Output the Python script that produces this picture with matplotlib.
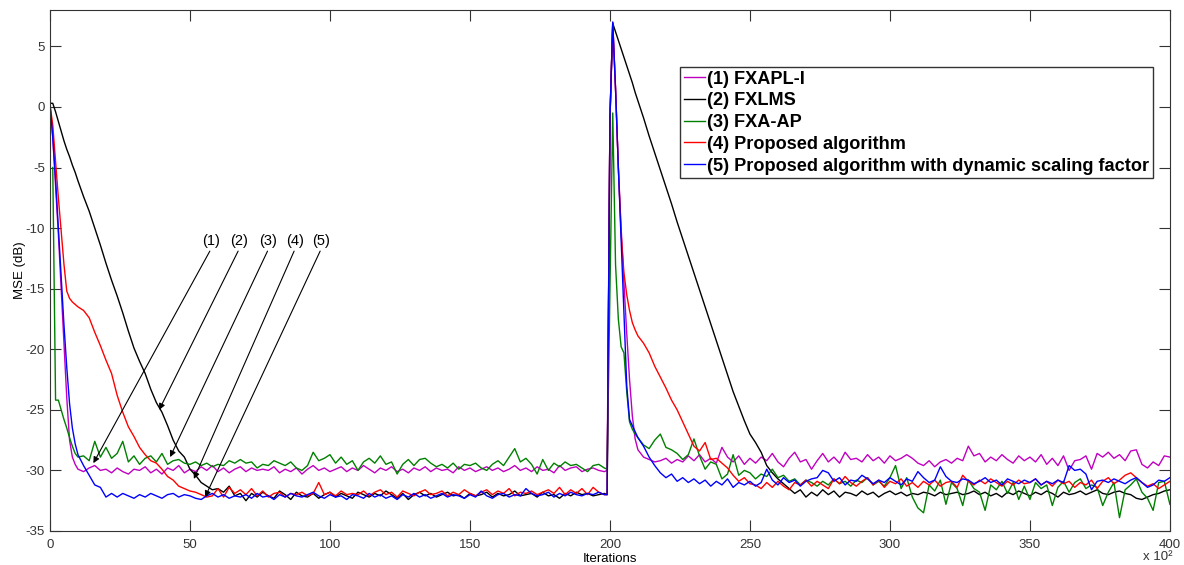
import numpy as np
import matplotlib
matplotlib.use('Agg')
import matplotlib.pyplot as plt

plt.rcParams['font.family'] = ['Liberation Sans', 'DejaVu Sans']
plt.rcParams['axes.unicode_minus'] = False

# iteration grid (x 10^2): fine steps around the two transients, step 2 elsewhere
it = np.concatenate([np.arange(0, 10), np.arange(10, 199, 2),
                     np.arange(199, 210), np.arange(210, 401, 2)])

# (1) FXAPL-I
fxapl = [0.2, -2.5, -6.5, -10.5, -15.0, -19.5, -24.0, -27.5, -28.9, -29.5,
         -29.9, -30.1, -29.8, -29.6, -30.0, -29.9, -30.2, -29.8, -30.1, -30.3,
         -29.9, -30.0, -29.7, -30.2, -29.9, -30.3, -29.8, -30.0, -29.6, -30.2,
         -29.9, -30.1, -29.7, -30.0, -29.6, -30.1, -29.8, -30.2, -29.9, -29.7,
         -30.1, -29.8, -30.0, -29.9, -30.0, -29.7, -30.2, -29.9, -30.1, -29.8,
         -30.3, -29.9, -29.6, -30.0, -29.8, -30.1, -29.9, -29.7, -30.1, -29.8,
         -30.0, -29.6, -29.9, -30.2, -29.8, -30.0, -29.7, -30.1, -29.9, -30.2,
         -29.8, -30.0, -29.7, -30.1, -29.8, -30.0, -29.9, -30.2, -29.7, -30.0,
         -29.8, -30.1, -29.9, -29.7, -30.0, -29.8, -30.1, -29.9, -29.6, -30.0,
         -29.8, -30.1, -29.7, -30.0, -29.9, -30.2, -29.6, -30.0, -29.8, -29.7,
         -30.1, -29.9, -29.8, -30.0, -30.1,
         -30.0, -1.0, 7.0, 1.5, -5.0, -10.0, -14.5, -18.7, -22.5, -25.5, -27.4,
         -28.3, -28.9, -29.1, -29.3, -29.2, -29.0, -29.4, -29.1, -29.3, -28.8,
         -29.2, -28.7, -29.3, -29.0, -29.4, -28.1, -28.9, -29.3, -28.8, -29.5,
         -29.0, -29.4, -28.9, -29.2, -28.6, -29.3, -29.7, -29.0, -28.5, -29.3,
         -29.1, -29.9, -29.2, -28.6, -29.3, -28.9, -29.4, -28.5, -29.1, -29.0,
         -29.3, -28.7, -29.2, -28.9, -29.4, -28.8, -29.2, -29.0, -28.7, -29.0,
         -29.4, -29.6, -29.2, -29.7, -29.3, -29.1, -29.4, -29.0, -29.2, -28.0,
         -28.8, -28.6, -29.3, -28.9, -29.2, -28.7, -29.1, -29.4, -28.8, -29.2,
         -28.9, -29.3, -28.7, -29.5, -29.0, -29.6, -28.8, -30.0, -29.2, -29.1,
         -28.8, -29.9, -28.6, -28.9, -28.5, -29.0, -28.7, -29.2, -28.4, -28.3,
         -29.5, -29.8, -29.3, -29.6, -28.8, -28.9]

# (2) FXLMS
fxlms = [0.3, 0.3, -0.4, -1.2, -2.0, -2.8, -3.5, -4.1, -4.8, -5.4,
         -6.1, -7.4, -8.6, -10.0, -11.4, -12.9, -14.3, -15.6, -17.0, -18.5,
         -19.9, -21.0, -22.0, -23.3, -24.4, -25.2, -26.3, -27.5, -28.4, -28.9,
         -29.9, -30.4, -31.0, -31.3, -31.6, -31.5, -31.8, -31.3, -32.1, -31.9,
         -32.5, -31.9, -32.2, -31.8, -32.1, -32.3, -31.7, -32.0, -32.4, -31.8,
         -32.1, -32.2, -31.9, -32.3, -32.0, -31.8, -32.2, -31.9, -32.1, -32.3,
         -31.8, -32.0, -32.2, -31.9, -32.1, -31.7, -32.0, -32.3, -31.9, -32.4,
         -32.0, -31.8, -32.1, -31.9, -32.2, -32.0, -31.8, -32.1, -32.0, -32.3,
         -31.9, -32.1, -32.0, -31.8, -32.2, -31.9, -32.1, -32.0, -31.7, -32.1,
         -32.0, -31.9, -32.2, -31.8, -32.1, -32.0, -32.3, -31.9, -32.1, -31.8,
         -32.0, -31.9, -32.1, -32.0, -31.9,
         -32.0, -1.0, 6.9, 6.2, 5.5, 4.8, 4.1, 3.4, 2.7, 2.0, 1.2,
         0.5, -0.9, -2.4, -3.8, -5.2, -6.6, -8.0, -9.5, -10.9, -12.3,
         -13.7, -15.1, -16.5, -17.9, -19.3, -20.7, -22.1, -23.5, -24.7, -25.9,
         -27.0, -27.7, -28.5, -29.6, -30.2, -30.7, -31.1, -31.5, -31.9, -31.6,
         -32.2, -31.8, -32.1, -31.6, -32.0, -31.7, -32.2, -31.8, -31.9, -32.1,
         -31.7, -32.0, -31.8, -32.2, -31.9, -31.7, -32.0, -31.8, -32.1, -31.9,
         -32.0, -31.8, -31.9, -32.1, -31.8, -32.0, -31.9, -31.8, -32.0, -31.9,
         -31.7, -32.0, -31.8, -32.1, -31.9, -32.2, -31.8, -32.0, -31.7, -31.9,
         -32.1, -31.8, -32.0, -31.7, -31.9, -32.2, -31.8, -32.0, -31.9, -31.7,
         -32.0, -31.8, -31.6, -31.9, -32.0, -31.8, -31.7, -31.9, -32.0, -32.3,
         -32.4, -32.2, -32.0, -31.9, -31.7, -31.6]

# (3) FXA-AP
fxaap = [np.nan, -5.0, -24.2, -24.2, -25.0, -25.8, -26.5, -27.3, -28.0, -28.6,
         -28.9, -28.8, -29.2, -27.6, -28.9, -28.1, -29.0, -28.6, -27.6, -29.3,
         -28.8, -29.5, -29.0, -28.8, -29.3, -28.6, -29.5, -29.2, -29.1, -29.4,
         -29.5, -29.3, -29.6, -29.4, -29.7, -29.5, -29.6, -29.2, -29.4, -29.1,
         -29.4, -29.3, -29.8, -29.5, -29.6, -29.2, -29.4, -29.6, -29.3, -29.8,
         -30.0, -29.6, -28.5, -29.2, -29.0, -28.7, -29.4, -28.9, -29.5, -29.2,
         -30.0, -29.3, -29.0, -29.4, -28.8, -29.5, -29.3, -30.3, -29.5, -29.1,
         -29.6, -29.1, -29.0, -29.4, -29.7, -29.5, -29.8, -29.4, -29.9, -29.5,
         -29.6, -29.4, -29.8, -30.0, -29.5, -29.2, -29.6, -28.9, -28.2, -29.3,
         -29.0, -29.5, -30.3, -29.1, -30.0, -29.4, -29.7, -29.3, -29.6, -29.5,
         -29.8, -30.1, -29.6, -29.5, -29.8,
         -29.9, -15.0, -0.5, -13.0, -17.5, -19.8, -20.3, -23.5, -26.0, -26.6, -27.0,
         -27.3, -27.9, -28.2, -27.5, -27.0, -28.1, -28.3, -28.6, -29.1, -28.7,
         -27.4, -28.8, -29.9, -29.3, -29.5, -30.7, -30.3, -28.7, -30.4, -30.0,
         -30.2, -30.7, -30.3, -30.5, -29.9, -30.6, -30.4, -30.9, -30.7, -31.2,
         -30.8, -31.0, -31.3, -30.9, -31.2, -30.7, -31.1, -30.9, -31.3, -30.8,
         -31.0, -30.6, -31.2, -30.9, -31.3, -30.6, -29.6, -31.5, -30.6, -32.2,
         -33.1, -33.5, -31.2, -31.7, -30.8, -32.8, -31.0, -31.5, -32.9, -30.8,
         -31.5, -31.8, -33.3, -31.2, -31.6, -30.9, -31.9, -31.0, -32.4, -31.3,
         -32.4, -31.0, -31.5, -31.2, -32.9, -31.4, -30.9, -31.8, -31.0, -30.7,
         -31.5, -31.2, -31.4, -32.9, -31.8, -31.0, -33.9, -31.6, -31.2, -30.7,
         -31.8, -32.3, -33.3, -31.0, -30.9, -32.8]

# (4) Proposed algorithm
proposed = [0.2, -1.5, -4.5, -7.5, -10.3, -13.0, -15.2, -15.8, -16.1, -16.3,
            -16.5, -16.8, -17.4, -18.6, -19.7, -20.9, -22.0, -23.8, -25.2, -26.4,
            -27.2, -28.1, -28.7, -29.2, -29.4, -29.9, -30.5, -30.8, -31.3, -31.5,
            -31.7, -31.8, -32.0, -32.2, -32.1, -31.5, -32.2, -31.4, -31.9, -31.6,
            -32.0, -31.5, -32.1, -31.7, -32.2, -31.9, -31.8, -32.2, -31.9, -32.0,
            -31.8, -32.1, -31.9, -31.0, -32.0, -31.8, -32.1, -31.7, -32.0, -31.9,
            -32.0, -31.7, -32.1, -31.8, -31.6, -32.0, -31.8, -32.2, -31.7, -31.9,
            -32.1, -31.8, -31.6, -32.0, -31.9, -31.7, -32.1, -31.8, -32.0, -31.6,
            -31.9, -32.1, -31.8, -31.6, -32.0, -31.7, -31.9, -31.5, -32.1, -31.8,
            -31.9, -31.7, -32.0, -31.8, -31.6, -31.9, -31.4, -32.0, -31.6, -31.9,
            -31.5, -32.0, -31.4, -31.8, -32.0,
            -32.0, -1.0, 6.9, 1.5, -5.0, -10.5, -13.7, -15.5, -16.8, -17.8, -18.4,
            -18.9, -19.5, -20.3, -21.4, -22.3, -23.2, -24.2, -25.0, -26.0, -27.0,
            -28.0, -28.4, -27.7, -29.1, -29.0, -29.4, -29.8, -30.4, -30.9, -30.6,
            -31.1, -31.2, -31.5, -31.0, -31.4, -30.9, -31.3, -31.6, -31.0, -31.2,
            -30.8, -31.3, -30.9, -31.2, -31.5, -30.7, -31.1, -30.5, -31.0, -31.3,
            -30.9, -30.6, -31.2, -30.8, -31.4, -30.9, -31.1, -30.7, -31.3, -31.0,
            -31.4, -30.9, -31.2, -30.8, -31.3, -31.0, -30.9, -31.4, -30.4, -30.9,
            -31.2, -30.8, -31.1, -30.7, -31.0, -31.3, -30.9, -31.2, -30.8, -31.1,
            -31.0, -30.7, -31.2, -30.9, -31.3, -30.8, -31.1, -30.9, -31.4, -31.0,
            -31.2, -30.8, -31.5, -30.9, -30.6, -31.1, -30.8, -30.4, -30.2, -30.6,
            -31.0, -31.3, -31.1, -31.5, -31.2, -30.9]

# (5) Proposed algorithm with dynamic scaling factor
proposed_dyn = [0.2, -2.5, -6.0, -10.0, -14.0, -18.0, -21.5, -24.5, -26.5, -27.8,
                -28.7, -29.6, -30.4, -31.2, -31.4, -32.2, -31.9, -32.2, -31.9, -32.1,
                -32.3, -32.0, -32.2, -31.9, -32.1, -32.3, -32.0, -31.9, -32.2, -32.0,
                -32.1, -32.3, -32.4, -32.1, -31.9, -32.2, -32.0, -32.3, -32.1, -32.2,
                -32.0, -32.3, -31.9, -32.2, -32.1, -32.4, -32.0, -32.2, -31.9, -32.1,
                -32.2, -32.0, -31.8, -32.1, -32.3, -32.0, -32.2, -32.1, -32.4, -32.0,
                -32.1, -32.3, -31.9, -32.2, -32.0, -32.3, -32.1, -32.4, -32.0, -32.2,
                -31.9, -32.2, -32.0, -32.3, -32.1, -31.9, -32.2, -32.0, -32.1, -32.3,
                -32.0, -32.2, -31.7, -32.1, -32.3, -32.0, -31.9, -32.2, -32.0, -32.1,
                -31.5, -31.9, -32.1, -32.0, -31.8, -32.2, -31.9, -32.1, -31.8, -32.0,
                -32.1, -31.9, -32.0, -31.8, -32.0,
                -32.0, -1.0, 7.0, 1.5, -5.0, -11.0, -17.0, -23.0, -25.8, -26.3, -26.8,
                -27.3, -28.0, -28.9, -29.6, -30.2, -30.6, -30.3, -30.9, -30.6, -31.0,
                -30.7, -31.1, -30.8, -31.3, -30.9, -31.2, -30.7, -31.4, -31.0, -31.2,
                -30.9, -31.3, -31.0, -29.9, -30.8, -31.2, -30.6, -31.0, -30.8, -31.3,
                -30.9, -30.7, -30.6, -30.0, -30.2, -30.9, -30.6, -31.2, -30.8, -30.9,
                -30.4, -30.7, -31.1, -30.8, -31.0, -30.6, -30.9, -31.2, -30.7, -30.9,
                -30.1, -30.6, -31.0, -30.8, -29.7, -30.5, -30.9, -31.0, -30.7, -30.8,
                -31.1, -30.9, -30.6, -31.0, -30.8, -31.2, -30.7, -30.9, -31.1, -30.8,
                -31.0, -30.7, -31.2, -30.9, -31.1, -30.8, -31.0, -29.6, -30.0, -29.9,
                -30.3, -31.6, -30.9, -30.8, -31.0, -30.7, -30.9, -31.1, -30.8, -30.6,
                -31.0, -31.4, -31.2, -30.8, -30.9, -30.6]

series = [fxapl, fxlms, fxaap, proposed, proposed_dyn]
labels = ['(1) FXAPL-I', '(2) FXLMS', '(3) FXA-AP', '(4) Proposed algorithm',
          '(5) Proposed algorithm with dynamic scaling factor']
colors = ['#c000c0', 'k', '#008000', '#ff0000', '#0000ff']

# arrow labels: (text, text pos, arrow tip)
tags = ['(1)', '(2)', '(3)', '(4)', '(5)']
tag_x = [57.4, 67.5, 78.0, 87.5, 96.8]
tip_x = [15.5, 39.0, 42.9, 51.4, 55.4]
tip_y = [-29.4, -25.0, -28.9, -30.7, -32.2]

fig = plt.figure(figsize=(11.84, 5.65), dpi=100)
ax = fig.add_axes([0.0422, 0.0602, 0.9459, 0.9221])

for y, lab, c in zip(series, labels, colors):
    ax.plot(it, y, color=c, lw=1.0, label=lab)

for t, tx, px, py in zip(tags, tag_x, tip_x, tip_y):
    ax.text(tx, -11.1, t, ha='center', va='center', fontsize=10.5)
    ax.annotate('', xy=(px, py), xytext=(tx - 0.3, -11.9),
                arrowprops=dict(arrowstyle='-|>', color='k', lw=0.8,
                                mutation_scale=9, shrinkA=0, shrinkB=0))

ax.set_xlim(0, 400)
ax.set_ylim(-35, 8)
ax.set_xticks(np.arange(0, 401, 50))
ax.set_yticks(np.arange(-35, 6, 5))
ax.tick_params(direction='in', length=8, width=0.8, top=True, right=True,
               labelsize=9.5, colors='0.2')
ax.tick_params(axis='x', pad=6)
for s in ax.spines.values():
    s.set_color('0.2')
    s.set_linewidth(0.8)
ax.set_xlabel('Iterations', fontsize=9.5, labelpad=1)
ax.set_ylabel('MSE (dB)', fontsize=9.5, labelpad=0)
ax.text(1.002, -0.05, 'x 10²', transform=ax.transAxes, ha='right', va='center',
        fontsize=9.5, color='0.2')

leg = ax.legend(loc='upper left', bbox_to_anchor=(0.5625, 0.8906),
                prop={'weight': 'bold', 'size': 13.1}, frameon=True, fancybox=False,
                edgecolor='k', handlelength=1.2, handletextpad=0.1,
                labelspacing=0.26, borderpad=0.2, borderaxespad=0)
leg.get_frame().set_linewidth(1.0)

fig.savefig('out.png', dpi=100)
